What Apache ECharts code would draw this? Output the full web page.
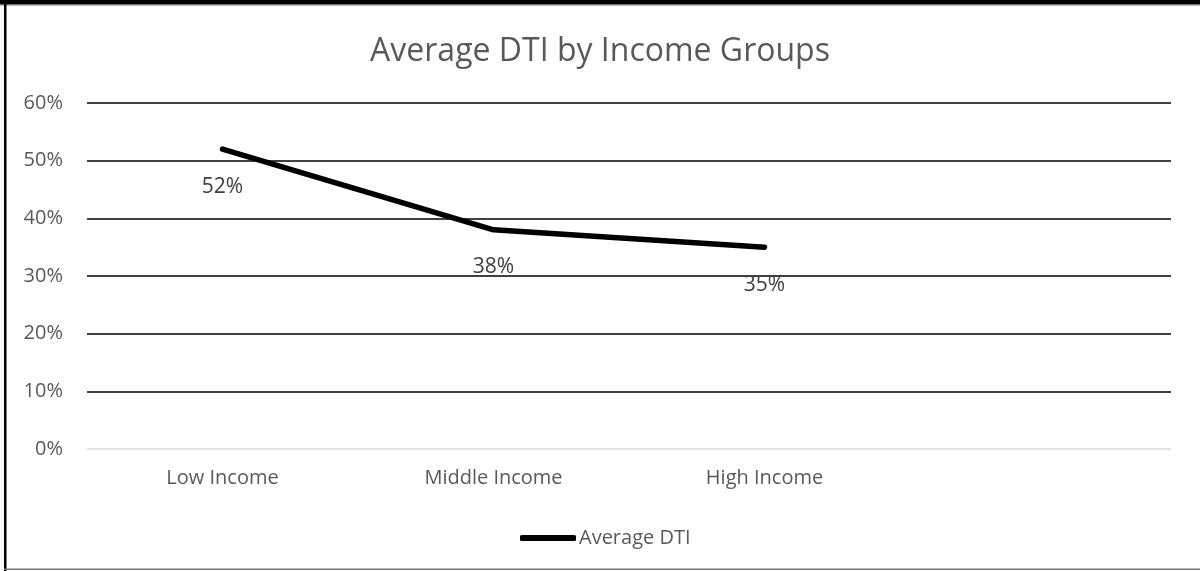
<!DOCTYPE html>
<html>
<head>
<meta charset="utf-8">
<script src="https://cdn.jsdelivr.net/npm/echarts@6/dist/echarts.min.js"></script>
<style>html,body{margin:0;padding:0;background:#fff}#c{width:1200px;height:571px}</style>
</head>
<body>
<div id="c"></div>
<script>
const categories = ['Low Income', 'Middle Income', 'High Income', ''];
const dtiValues = [52, 38, 35, null];
const yTicks = [0, 10, 20, 30, 40, 50, 60];
const seriesName = 'Average DTI';
const titleText = 'Average DTI by Income Groups';

const FONT = '"Open Sans", "Liberation Sans", sans-serif';
const chart = echarts.init(document.getElementById('c'), null, {renderer: 'canvas'});
chart.setOption({
  animation: false,
  backgroundColor: '#fff',
  title: {
    text: titleText, left: 'center', top: 31,
    textStyle: {fontFamily: FONT, fontSize: 32, fontWeight: 'normal', color: '#595959'}
  },
  legend: {
    data: [{name: seriesName, icon: 'roundRect', itemStyle: {color: '#000', opacity: 1}}], left: 515, top: 523,
    itemWidth: 56, itemHeight: 6, itemGap: 4,
    textStyle: {fontFamily: FONT, fontSize: 20, color: '#595959', padding: [0,0,0,-2]}
  },
  grid: {left: 87, right: 29, top: 103, bottom: 122, containLabel: false},
  xAxis: {
    type: 'category', data: categories, boundaryGap: true,
    axisLine: {show: false}, axisTick: {show: false},
    axisLabel: {fontFamily: FONT, fontSize: 20, color: '#595959', margin: 19}
  },
  yAxis: {
    type: 'value', min: yTicks[0], max: yTicks[yTicks.length-1], interval: 10,
    axisLine: {show: false}, axisTick: {show: false},
    axisLabel: {fontFamily: FONT, fontSize: 20, color: '#595959', margin: 24, formatter: v => v + '%'},
    splitLine: {lineStyle: {color: ['#d9d9d9', '#000', '#000', '#000', '#000', '#000', '#000'], width: 1.5}}
  },
  series: [{
    name: seriesName, type: 'line', data: dtiValues,
    symbol: 'circle', symbolSize: 2, showSymbol: true, connectNulls: false,
    lineStyle: {color: '#000', width: 5.5, cap: 'round', join: 'round'},
    itemStyle: {color: '#000'},
    label: {show: true, position: 'bottom', distance: 26, fontFamily: FONT, fontSize: 21, color: '#404040', formatter: p => p.value + '%'}
  }],
  graphic: [
    {type: 'rect', shape: {x: 0, y: 0, width: 1200, height: 4}, style: {fill: '#000'}, silent: true},
    {type: 'rect', shape: {x: 0, y: 4, width: 1200, height: 1.5}, style: {fill: '#777'}, silent: true},
    {type: 'rect', shape: {x: 4, y: 0, width: 2.5, height: 571}, style: {fill: '#000'}, silent: true},
    {type: 'rect', shape: {x: 4, y: 568.5, width: 1196, height: 1.5}, style: {fill: '#777'}, silent: true}
  ]
});
</script>
</body>
</html>
